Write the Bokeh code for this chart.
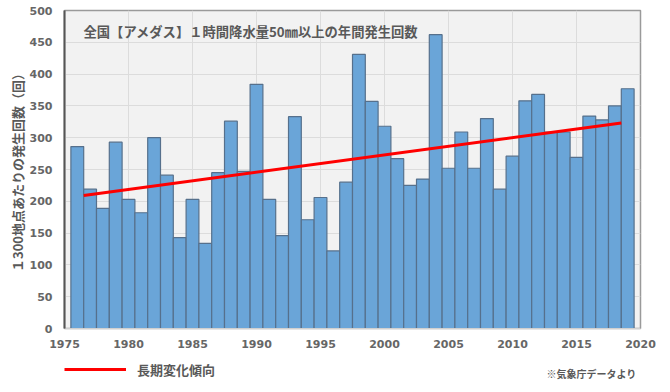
from bokeh.plotting import figure
from bokeh.layouts import column
from bokeh.models import Range1d, FixedTicker, Label, Legend, LegendItem, ColumnDataSource
from bokeh.embed import file_html
from bokeh.resources import INLINE

years = list(range(1976, 2020))
counts = [286, 219, 189, 293, 203, 182, 300, 241, 143, 203,
          134, 245, 326, 247, 384, 203, 146, 333, 171, 206,
          122, 230, 431, 357, 318, 267, 225, 235, 462, 252,
          309, 252, 330, 219, 271, 358, 368, 309, 309, 269,
          334, 328, 350, 377]
trend_years = [1976.5, 2018.5]
trend_values = [209, 323]
x_ticks = [1975, 1980, 1985, 1990, 1995, 2000, 2005, 2010, 2015, 2020]
y_ticks = [0, 50, 100, 150, 200, 250, 300, 350, 400, 450, 500]

title_text = "全国【アメダス】１時間降水量50㎜以上の年間発生回数"
y_label = "１300地点あたりの発生回数（回）"
legend_text = "長期変化傾向"
note_text = "※気象庁データより"

JP = "Noto Sans CJK JP"
GREY = "#595959"
RED = "#ff0000"

p = figure(frame_width=576, frame_height=318, output_backend="svg", toolbar_location=None,
           x_range=Range1d(1975, 2020), y_range=Range1d(0, 500),
           min_border_left=64, min_border_top=10, min_border_right=16, min_border_bottom=22)
p.background_fill_color = "#f2f2f2"
p.border_fill_color = "white"
p.outline_line_color = "#9a9a9a"
p.outline_line_width = 1.5

src = ColumnDataSource(dict(x=years, top=counts))
p.vbar(x="x", top="top", width=1.0, bottom=0, source=src,
       fill_color="#6aa5d8", line_color="#56708c", line_width=1.2)

p.line(trend_years, trend_values, line_color=RED, line_width=3)

p.xaxis.ticker = FixedTicker(ticks=x_ticks)
p.yaxis.ticker = FixedTicker(ticks=y_ticks)
for ax in (p.xaxis, p.yaxis):
    ax.major_tick_line_color = None
    ax.minor_tick_line_color = None
    ax.major_label_text_font = "DejaVu Sans"
    ax.major_label_text_font_style = "bold"
    ax.major_label_text_font_size = "11px"
    ax.major_label_text_color = "#666666"
p.xaxis.axis_line_color = "#d0d0d0"
p.yaxis.axis_line_color = "#555555"
p.yaxis.axis_line_width = 2
p.xaxis.major_label_standoff = 5
p.yaxis.major_label_standoff = 6
p.yaxis.axis_label = y_label
p.yaxis.axis_label_text_font = JP
p.yaxis.axis_label_text_font_style = "bold"
p.yaxis.axis_label_text_font_size = "13px"
p.yaxis.axis_label_text_color = GREY
p.yaxis.axis_label_standoff = 0

p.xgrid.ticker = FixedTicker(ticks=x_ticks)
p.ygrid.ticker = FixedTicker(ticks=y_ticks)
p.grid.grid_line_color = "#dcdcdc"
p.grid.grid_line_width = 1

p.add_layout(Label(x=19, y=297, x_units="screen", y_units="screen", text=title_text,
                   text_font=JP, text_font_size="13.3px", text_font_style="bold",
                   text_color=GREY, text_baseline="middle"))

# legend row (frame aligned with the main plot's frame)
q = figure(frame_width=576, frame_height=36, output_backend="svg", toolbar_location=None,
           x_range=Range1d(0, 576), y_range=Range1d(0, 36),
           min_border_left=64, min_border_right=16, min_border_top=0, min_border_bottom=0,
           outline_line_color=None)
q.axis.visible = False
q.grid.visible = False
tr = q.line([0], [0], line_color=RED, line_width=3)
legend = Legend(items=[LegendItem(label=legend_text, renderers=[tr])],
                location=(0, 7), glyph_width=62, glyph_height=20, label_standoff=11,
                padding=0, margin=0, border_line_color=None, background_fill_alpha=0,
                label_text_font=JP, label_text_font_size="13px", label_text_font_style="bold",
                label_text_color=GREY)
q.add_layout(legend, "center")
q.add_layout(Label(x=572, y=13, x_units="screen", y_units="screen", text=note_text,
                   text_font=JP, text_font_size="10px", text_font_style="bold",
                   text_color=GREY, text_align="right", text_baseline="middle"))

layout = column(p, q, spacing=0)
open("out.html", "w").write(file_html(layout, INLINE))
